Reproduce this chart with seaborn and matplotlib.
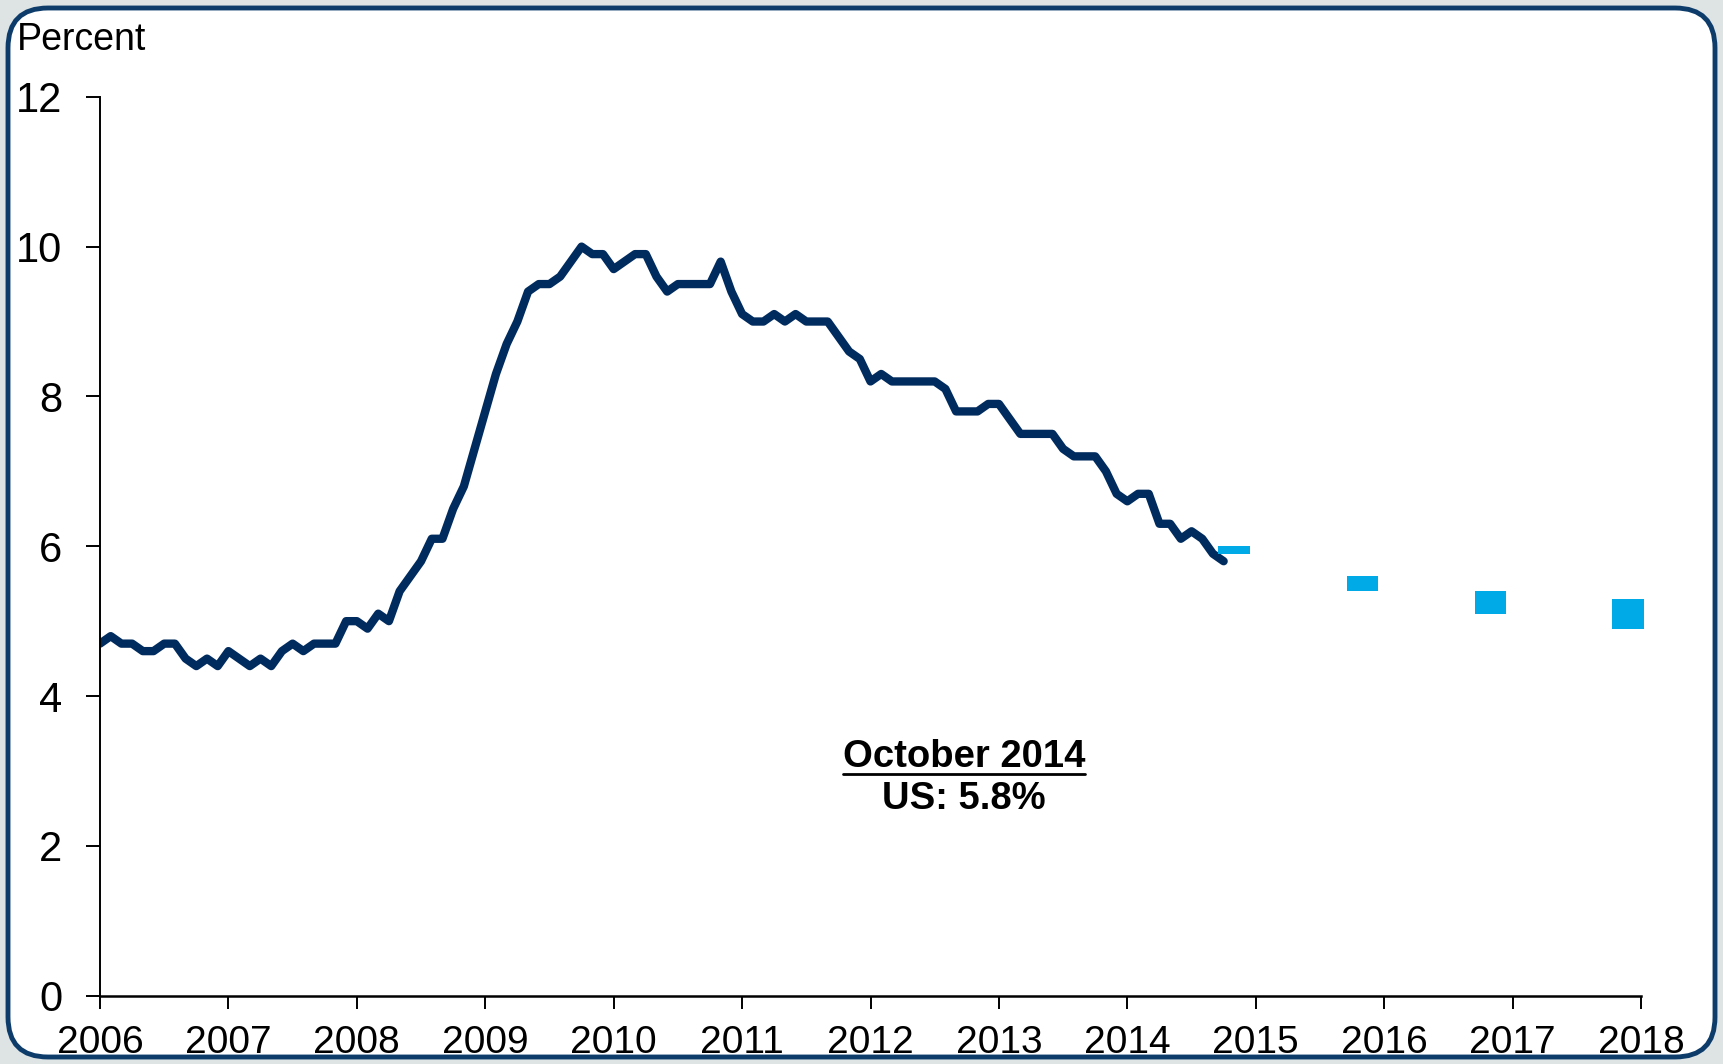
import numpy as np
import pandas as pd
import matplotlib
matplotlib.use("Agg")
import matplotlib.pyplot as plt
from matplotlib.patches import FancyBboxPatch
from matplotlib.lines import Line2D
from matplotlib.transforms import IdentityTransform
import seaborn as sns

# -------------------------------
# Data: civilian unemployment rate (monthly, Jan 2006 - Oct 2014)
# -------------------------------
rate_2006 = [4.7, 4.8, 4.7, 4.7, 4.6, 4.6, 4.7, 4.7, 4.5, 4.4, 4.5, 4.4]
rate_2007 = [4.6, 4.5, 4.4, 4.5, 4.4, 4.6, 4.7, 4.6, 4.7, 4.7, 4.7, 5.0]
rate_2008 = [5.0, 4.9, 5.1, 5.0, 5.4, 5.6, 5.8, 6.1, 6.1, 6.5, 6.8, 7.3]
rate_2009 = [7.8, 8.3, 8.7, 9.0, 9.4, 9.5, 9.5, 9.6, 9.8, 10.0, 9.9, 9.9]
rate_2010 = [9.7, 9.8, 9.9, 9.9, 9.6, 9.4, 9.5, 9.5, 9.5, 9.5, 9.8, 9.4]
rate_2011 = [9.1, 9.0, 9.0, 9.1, 9.0, 9.1, 9.0, 9.0, 9.0, 8.8, 8.6, 8.5]
rate_2012 = [8.2, 8.3, 8.2, 8.2, 8.2, 8.2, 8.2, 8.1, 7.8, 7.8, 7.8, 7.9]
rate_2013 = [7.9, 7.7, 7.5, 7.5, 7.5, 7.5, 7.3, 7.2, 7.2, 7.2, 7.0, 6.7]
rate_2014 = [6.6, 6.7, 6.7, 6.3, 6.3, 6.1, 6.2, 6.1, 5.9, 5.8]

# FOMC projections (central tendency, Q4 of each year)
proj_x = [2014.83, 2015.83, 2016.83, 2017.9]
proj_low = [5.9, 5.4, 5.1, 4.9]
proj_high = [6.0, 5.6, 5.4, 5.3]

year_ticks = list(range(2006, 2019))
pct_ticks = [0, 2, 4, 6, 8, 10, 12]

rates = rate_2006 + rate_2007 + rate_2008 + rate_2009 + rate_2010 + \
    rate_2011 + rate_2012 + rate_2013 + rate_2014
df = pd.DataFrame({"date": 2006 + np.arange(len(rates)) / 12, "rate": rates})

NAVY = "#002B5E"
CYAN = "#00AAE6"
BORDER = "#0D3C6B"

sns.set_theme(style="white")
plt.rcParams["font.family"] = ["Liberation Sans", "DejaVu Sans"]

fig = plt.figure(figsize=(17.23, 10.64), dpi=100)
fig.patch.set_facecolor("#DEE3E4")

# rounded frame round the whole chart
frame = FancyBboxPatch((8, 7), 1707, 1049,
                       boxstyle="round,pad=0,rounding_size=40",
                       transform=IdentityTransform(),
                       facecolor="white", edgecolor=BORDER,
                       linewidth=3.5, zorder=-1)
fig.patches.append(frame)

ax = fig.add_axes([100 / 1723, 1 - 995.7 / 1064, 1541 / 1723, 898.9 / 1064])
ax.set_facecolor("white")

sns.lineplot(data=df, x="date", y="rate", color=NAVY, linewidth=6,
             ax=ax, solid_capstyle="round")

heights = [h - l for h, l in zip(proj_high, proj_low)]
ax.bar(proj_x, heights, bottom=proj_low, width=0.245, color=CYAN,
       linewidth=0, clip_on=False, zorder=3)

ax.set_xlim(2006, 2018)
ax.set_ylim(0, 12)
ax.set_xticks(year_ticks)
ax.set_xticklabels([str(y) for y in year_ticks])
ax.set_yticks(pct_ticks)
ax.set_xlabel("")
ax.set_ylabel("")

for side in ["top", "right"]:
    ax.spines[side].set_visible(False)
ax.spines["left"].set_color("black")
ax.spines["left"].set_linewidth(1.4)
ax.spines["bottom"].set_color("black")
ax.spines["bottom"].set_linewidth(1.8)

ax.tick_params(axis="y", direction="out", length=10, width=1.4,
               pad=17, labelsize=30, colors="black", left=True)
ax.tick_params(axis="x", direction="out", length=9, width=1.4,
               pad=12, labelsize=28, colors="black", bottom=True)

fig.text(17 / 1723, 1 - 40 / 1064, "Percent", fontsize=27,
         ha="left", va="center", color="black")

t1 = ax.text(2012.73, 3.05, "October 2014", fontsize=27.5, fontweight="bold",
             ha="center", va="baseline", color="black")
ax.text(2012.73, 2.49, "US: 5.8%", fontsize=27.5, fontweight="bold",
        ha="center", va="baseline", color="black")

# underline the first annotation line
fig.canvas.draw()
bb = t1.get_window_extent()
y_line = ax.transData.transform((0, 2.96))[1]
fig.lines.append(Line2D([bb.x0, bb.x1], [y_line, y_line], color="black",
                        linewidth=2, transform=IdentityTransform()))

fig.savefig("out.png", dpi=100, facecolor=fig.get_facecolor())
